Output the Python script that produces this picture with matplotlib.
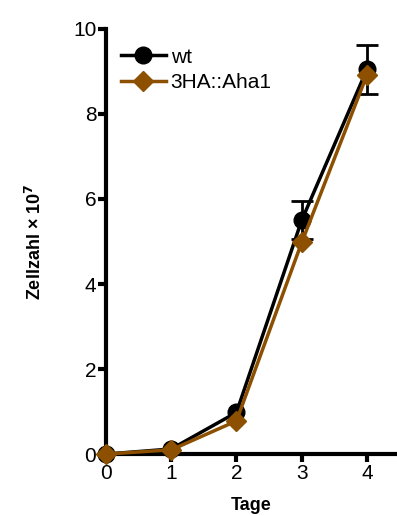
#!/usr/bin/env python3

import matplotlib

matplotlib.use("Agg")
import matplotlib.pyplot as plt

days = [0, 1, 2, 3, 4]
wt = [0.0, 0.12, 0.98, 5.5, 9.05]
wt_err = [0.0, 0.0, 0.0, 0.45, 0.57]
aha1 = [0.0, 0.1, 0.78, 4.98, 8.92]

BROWN = "#8c5000"

plt.rcParams["font.family"] = ["Liberation Sans Narrow", "Liberation Sans", "DejaVu Sans"]

fig = plt.figure(figsize=(3.97, 5.16), dpi=100)
ax = fig.add_axes([0.267, 0.120, 0.733, 0.824])

# error bars only where there is a spread
err_days = [d for d, e in zip(days, wt_err) if e > 0]
err_vals = [v for v, e in zip(wt, wt_err) if e > 0]
err_sizes = [e for e in wt_err if e > 0]
ax.errorbar(err_days, err_vals, yerr=err_sizes, fmt="none", ecolor="black",
            capsize=8, capthick=2, elinewidth=2, zorder=2)

ax.plot(days, wt, color="black", lw=2.5, marker="o", markersize=12,
        label="wt", clip_on=False, zorder=3)
ax.plot(days, aha1, color=BROWN, lw=2.5, marker="D", markersize=10,
        label="3HA::Aha1", clip_on=False, zorder=4)

ax.set_xlim(0, 4.46)
ax.set_ylim(0, 10)
ax.set_xticks(days)
ax.set_yticks([0, 2, 4, 6, 8, 10])
for side in ("top", "right"):
    ax.spines[side].set_visible(False)
for side in ("left", "bottom"):
    ax.spines[side].set_linewidth(3)
ax.tick_params(axis="both", width=3, length=6, labelsize=15, pad=1)

ax.set_xlabel("Tage", fontsize=13, fontweight="bold", labelpad=10)
ax.set_ylabel(r"Zellzahl × 10$^{\mathbf{7}}$", fontsize=13, fontweight="bold", labelpad=20)

ax.legend(loc="upper left", bbox_to_anchor=(0.0, 0.99), frameon=False,
          fontsize=15, handlelength=2.2, handletextpad=0.2, labelspacing=0.3,
          borderaxespad=0.3)

fig.savefig("out.png", dpi=100)
